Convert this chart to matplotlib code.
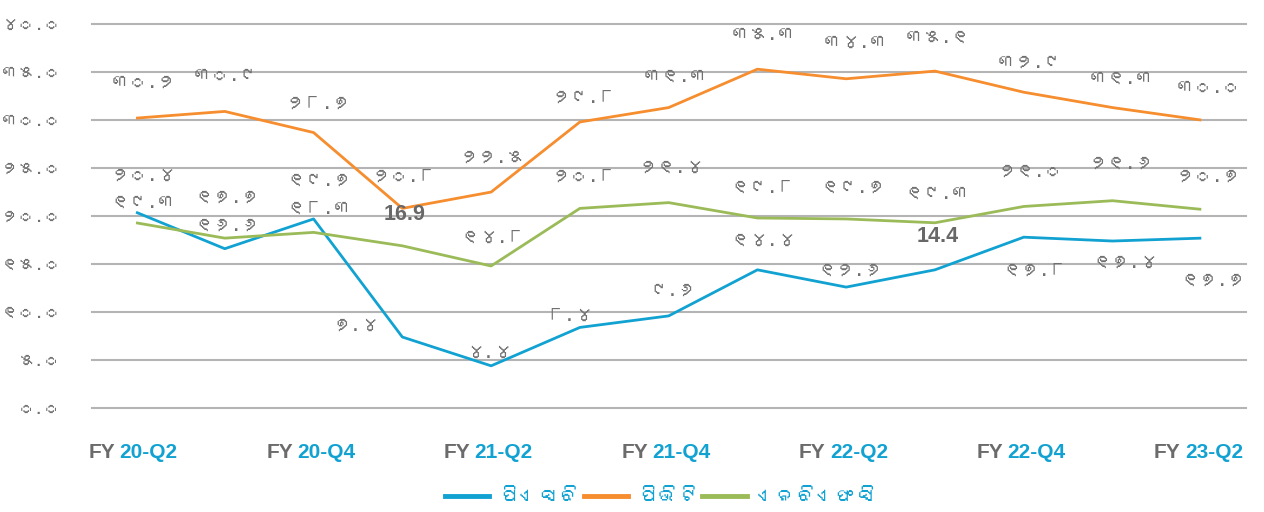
import matplotlib
matplotlib.use("Agg")
import matplotlib.pyplot as plt
from matplotlib import font_manager, ft2font
from matplotlib.lines import Line2D
from matplotlib.offsetbox import TextArea, HPacker, AnnotationBbox

# data
quarters = ["FY 20-Q2", "FY 20-Q3", "FY 20-Q4", "FY 21-Q1", "FY 21-Q2", "FY 21-Q3",
            "FY 21-Q4", "FY 22-Q1", "FY 22-Q2", "FY 22-Q3", "FY 22-Q4", "FY 23-Q1", "FY 23-Q2"]
psb = [20.4, 16.6, 19.7, 7.4, 4.4, 8.4, 9.6, 14.4, 12.6, 14.4, 17.8, 17.4, 17.7]
pvt = [30.2, 30.9, 28.7, 20.8, 22.5, 29.8, 31.3, 35.3, 34.3, 35.1, 32.9, 31.3, 30.0]
nbfc = [19.3, 17.7, 18.3, 16.9, 14.8, 20.8, 21.4, 19.8, 19.7, 19.3, 21.0, 21.6, 20.7]
names = ["ପିଏସବି", "ପିଭିଟି", "ଏନବିଏଫସି"]
yticks = [0, 5, 10, 15, 20, 25, 30, 35, 40]

# labels shown in latin bold (series, index)
bold_labels = {("nbfc", 3), ("psb", 9)}

# label offsets in pixels (dx, dy), dy negative = up
psb_dx = [7, 2, 6, -47, -3, -10, 4, 6, 4, 3, 11, 13, 12]
psb_dy = [-37, -24, -39, -12, -14, -13, -26, -30, -17, -33, 33, 21, 42]
pvt_dx = [7, 1, 5, 2, 1, 4, 7, 6, 9, 3, 6, 9, 7]
pvt_dy = [-36, -36, -30, -33, -35, -25, -32, -35, -37, -34, -30, -30, -33]
nbfc_dx = [7, 2, 6, 2, 2, 4, 3, 6, 7, 2, 6, 9, 7]
nbfc_dy = [-21, -41, -25, -31, -29, -33, -36, -31, -32, -30, -36, -38, -34]

blue = "#12a2d2"
orange = "#f68d2e"
green = "#9bbb59"
gray = "#707070"
grid_gray = "#b4b4b4"
latin = ["Liberation Sans", "DejaVu Sans"]


def find_odia_font():
    for f in font_manager.fontManager.ttflist:
        try:
            cmap = ft2font.FT2Font(f.fname).get_charmap()
        except Exception:
            continue
        if 0x0B2A in cmap and 0x0B67 in cmap:
            return f.name
    return None


odia = find_odia_font()
fams = [odia, "DejaVu Sans"] if odia else ["DejaVu Sans"]
plt.rcParams["font.family"] = fams

to_odia = str.maketrans("0123456789", "୦୧୨୩୪୫୬୭୮୯")


def odia_num(v):
    return f"{v:.1f}".translate(to_odia)


fig = plt.figure(figsize=(12.64, 5.12), dpi=100)
ax = fig.add_axes([0.0725, 0.203, 0.913, 0.75])

x = list(range(len(quarters)))
series = [("psb", psb, blue, psb_dx, psb_dy),
          ("pvt", pvt, orange, pvt_dx, pvt_dy),
          ("nbfc", nbfc, green, nbfc_dx, nbfc_dy)]

for key, vals, col, dxs, dys in series:
    ax.plot(x, vals, color=col, lw=2.0, solid_capstyle="butt", zorder=3)

for key, vals, col, dxs, dys in series:
    for i, v in enumerate(vals):
        if (key, i) in bold_labels:
            ax.annotate(f"{v:.1f}", (i, v), xytext=(dxs[i], -dys[i]),
                        textcoords="offset pixels", ha="center", va="center",
                        fontsize=15.5, fontweight="bold", color="#686868",
                        family=latin, zorder=4)
        else:
            ax.annotate(odia_num(v), (i, v), xytext=(dxs[i], -dys[i]),
                        textcoords="offset pixels", ha="center", va="center",
                        fontsize=13.5, color=gray, zorder=4)

ax.set_xlim(-0.5, len(quarters) - 0.5)
ax.set_ylim(0, 40)
ax.set_yticks(yticks)
ax.set_yticklabels([odia_num(t) for t in yticks], fontsize=12.5, color=gray)
ax.tick_params(axis="y", length=0, pad=22)
ax.set_xticks([])
for s in ax.spines.values():
    s.set_visible(False)
for t in yticks:
    ax.axhline(t, color=grid_gray, lw=1.5, zorder=1, clip_on=False)

# x labels: grey "FY" + blue period, every second quarter
for i in range(0, len(quarters), 2):
    fy, per = quarters[i].split(" ")
    box = HPacker(children=[
        TextArea(fy, textprops=dict(color="#6b6b6b", fontsize=15, fontweight="bold",
                                    family=latin)),
        TextArea(per, textprops=dict(color=blue, fontsize=15, fontweight="bold",
                                     family=latin))],
        align="baseline", pad=0, sep=3)
    ab = AnnotationBbox(box, (i, 0), xycoords=("data", "axes fraction"),
                        xybox=(-2, -32), boxcoords="offset points",
                        frameon=False, box_alignment=(0.5, 0.5))
    ax.add_artist(ab)

handles = [Line2D([], [], color=c, lw=3.5) for c in (blue, orange, green)]
leg = fig.legend(handles, names, loc="center", bbox_to_anchor=(0.523, 0.03),
                 ncol=3, frameon=False, fontsize=14.5, handlelength=2.2,
                 handletextpad=0.5, columnspacing=0.2)
for t in leg.get_texts():
    t.set_color(blue)

fig.savefig("out.png", dpi=100)
